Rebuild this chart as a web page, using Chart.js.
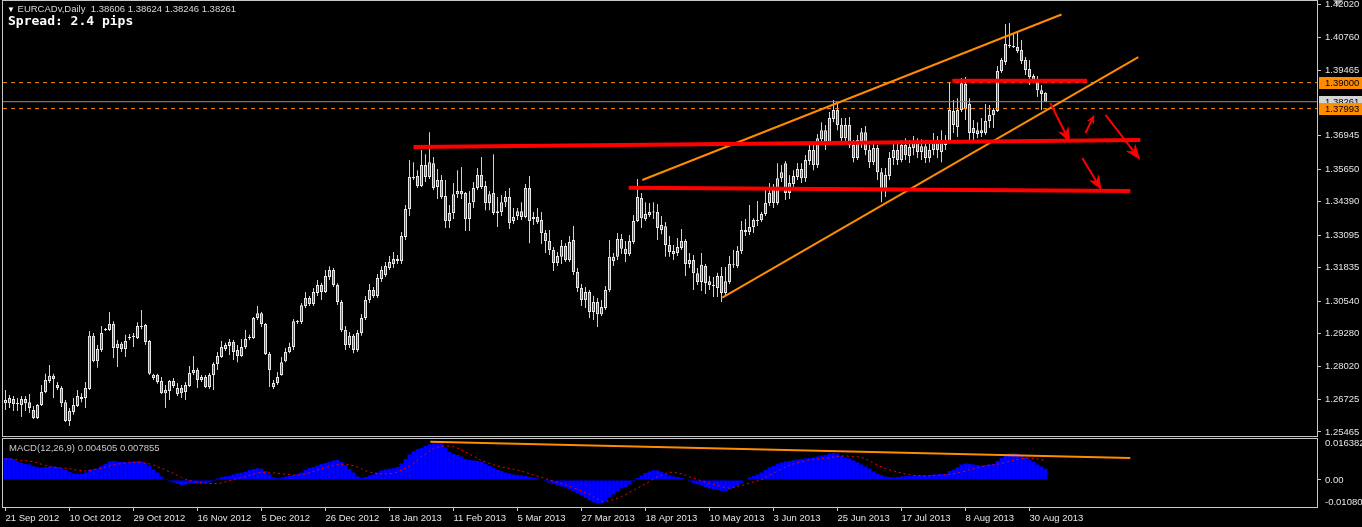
<!DOCTYPE html>
<html>
<head>
<meta charset="utf-8">
<title>EURCADv Daily</title>
<script src="https://cdn.jsdelivr.net/npm/chart.js@4.4.1/dist/chart.umd.min.js"></script>
<style>
  html, body { margin: 0; padding: 0; background: #000; overflow: hidden; }
  #wrap { position: relative; width: 1362px; height: 527px; background: #000; }
  #priceChart { position: absolute; left: 0; top: 0; }
  #macdChart { position: absolute; left: 0; top: 437px; }
  .txt { position: absolute; white-space: pre; font-family: "Liberation Sans", Arial, sans-serif; }
  #title { left: 7px; top: 3px; font-size: 9.5px; color: #d8d8d8; }
  #title .tri { font-size: 8px; color: #fff; }
  #spread { left: 8px; top: 13px; font: bold 13px "DejaVu Sans Mono", monospace; color: #fff; }
  #macdLabel { left: 9px; top: 442px; font-size: 9.5px; color: #c8c8c8; }
  #shiftMark { position: absolute; left: 1333px; top: 0; width: 0; height: 0;
    border-left: 5px solid transparent; border-right: 5px solid transparent; border-top: 6px solid #8a8a8a; }
</style>
</head>
<body>
<div id="wrap">
  <div id="shiftMark"></div>
  <canvas id="priceChart" width="1362" height="437"></canvas>
  <canvas id="macdChart" width="1362" height="90"></canvas>
  <div id="title" class="txt"></div>
  <div id="spread" class="txt"></div>
  <div id="macdLabel" class="txt"></div>
</div>
<script>
// daily bars, 21 Sep 2012 .. 4 Sep 2013 (MT4 feed with sunday bars)
const opens = [
  1.2658,1.2658,1.2674,1.2658,1.2651,1.2674,1.2662,1.2632,1.2601,1.2651,
  1.2701,1.2744,1.2764,1.2729,1.2717,1.2662,1.2589,1.2624,1.2647,1.2674,
  1.2678,1.2713,1.2919,1.2821,1.2864,1.2942,1.2942,1.2965,1.2872,1.2888,
  1.2868,1.2911,1.2915,1.2911,1.2957,1.2961,1.2899,1.2756,1.2768,1.2744,
  1.2697,1.2705,1.2744,1.2694,1.2717,1.2701,1.2725,1.2775,1.2787,1.2748,
  1.2760,1.2721,1.2767,1.2810,1.2837,1.2868,1.2880,1.2895,1.2864,1.2841,
  1.2876,1.2911,1.2911,1.2988,1.3007,1.2965,1.2849,1.2721,1.2736,1.2767,
  1.2821,1.2856,1.2876,1.2976,1.2973,1.3035,1.3066,1.3042,1.3085,1.3116,
  1.3089,1.3147,1.3174,1.3116,1.3050,1.2942,1.2884,1.2919,1.2864,1.2930,
  1.2988,1.3058,1.3097,1.3073,1.3139,1.3155,1.3182,1.3197,1.3217,1.3209,
  1.3302,1.3410,1.3534,1.3538,1.3500,1.3581,1.3534,1.3588,1.3496,1.3523,
  1.3461,1.3364,1.3395,1.3468,1.3480,1.3472,1.3372,1.3437,1.3492,1.3542,
  1.3500,1.3434,1.3472,1.3402,1.3399,1.3437,1.3457,1.3364,1.3383,1.3402,
  1.3379,1.3492,1.3372,1.3379,1.3368,1.3317,1.3286,1.3252,1.3201,1.3225,
  1.3267,1.3213,1.3290,1.3166,1.3104,1.3058,1.3089,1.3011,1.3050,1.3003,
  1.3027,1.3097,1.3209,1.3225,1.3294,1.3256,1.3236,1.3283,1.3364,1.3453,
  1.3372,1.3387,1.3399,1.3399,1.3329,1.3344,1.3271,1.3248,1.3240,1.3259,
  1.3286,1.3197,1.3213,1.3162,1.3128,1.3190,1.3131,1.3116,1.3104,1.3151,
  1.3085,1.3128,1.3194,1.3190,1.3248,1.3321,1.3321,1.3341,1.3368,1.3368,
  1.3391,1.3434,1.3484,1.3434,1.3530,1.3588,1.3472,1.3507,1.3534,1.3565,
  1.3530,1.3596,1.3639,1.3581,1.3681,1.3716,1.3670,1.3759,1.3794,1.3736,
  1.3685,1.3736,1.3658,1.3608,1.3674,1.3708,1.3639,1.3592,1.3647,1.3553,
  1.3484,1.3538,1.3608,1.3639,1.3600,1.3658,1.3616,1.3647,1.3670,1.3631,
  1.3654,1.3608,1.3639,1.3678,1.3631,1.3674,1.3674,1.3790,1.3728,1.3794,
  1.3895,1.3817,1.3724,1.3716,1.3716,1.3705,1.3751,1.3775,1.3790,1.3945,
  1.3980,1.4046,1.4042,1.4038,1.4026,1.3988,1.3953,1.3926,1.3902,1.3871,
  1.38606
];
const highs = [
  1.2709,1.2690,1.2686,1.2678,1.2686,1.2686,1.2694,1.2647,1.2655,1.2729,
  1.2772,1.2806,1.2772,1.2740,1.2725,1.2670,1.2639,1.2678,1.2709,1.2697,
  1.2740,1.2938,1.2930,1.2884,1.2957,1.2949,1.3011,1.2976,1.2903,1.2895,
  1.2923,1.2926,1.2930,1.2972,1.3019,1.2965,1.2903,1.2772,1.2772,1.2760,
  1.2729,1.2748,1.2756,1.2736,1.2729,1.2740,1.2802,1.2841,1.2795,1.2767,
  1.2767,1.2775,1.2817,1.2856,1.2899,1.2892,1.2907,1.2903,1.2884,1.2907,
  1.2942,1.2923,1.2992,1.3035,1.3011,1.2969,1.2856,1.2748,1.2779,1.2837,
  1.2872,1.2892,1.2984,1.2980,1.3046,1.3089,1.3073,1.3104,1.3135,1.3124,
  1.3174,1.3189,1.3182,1.3123,1.3058,1.2957,1.2934,1.2926,1.2942,1.3004,
  1.3073,1.3120,1.3108,1.3159,1.3189,1.3205,1.3228,1.3244,1.3232,1.3321,
  1.3426,1.3600,1.3592,1.3561,1.3639,1.3623,1.3708,1.3612,1.3565,1.3542,
  1.3523,1.3426,1.3511,1.3561,1.3573,1.3476,1.3480,1.3515,1.3569,1.3612,
  1.3519,1.3480,1.3623,1.3457,1.3465,1.3480,1.3492,1.3414,1.3414,1.3437,
  1.3507,1.3538,1.3399,1.3414,1.3399,1.3329,1.3329,1.3263,1.3244,1.3290,
  1.3278,1.3306,1.3345,1.3182,1.3120,1.3108,1.3097,1.3074,1.3066,1.3058,
  1.3112,1.3290,1.3240,1.3317,1.3314,1.3286,1.3310,1.3387,1.3527,1.3472,
  1.3437,1.3434,1.3437,1.3430,1.3383,1.3360,1.3306,1.3271,1.3298,1.3333,
  1.3294,1.3240,1.3232,1.3182,1.3240,1.3197,1.3151,1.3147,1.3163,1.3186,
  1.3186,1.3228,1.3252,1.3267,1.3364,1.3372,1.3426,1.3375,1.3441,1.3399,
  1.3496,1.3511,1.3507,1.3588,1.3581,1.3596,1.3542,1.3561,1.3589,1.3588,
  1.3620,1.3658,1.3670,1.3701,1.3747,1.3736,1.3786,1.3833,1.3817,1.3763,
  1.3763,1.3767,1.3678,1.3697,1.3724,1.3732,1.3658,1.3670,1.3658,1.3569,
  1.3569,1.3631,1.3662,1.3666,1.3678,1.3685,1.3678,1.3693,1.3685,1.3681,
  1.3674,1.3666,1.3705,1.3693,1.3716,1.3697,1.3902,1.3833,1.3840,1.3918,
  1.3922,1.3840,1.3755,1.3747,1.3763,1.3817,1.3813,1.3802,1.3964,1.3995,
  1.4127,1.4131,1.4092,1.4096,1.4065,1.3999,1.3988,1.3933,1.3926,1.3891,
  1.38624
];
const lows = [
  1.2632,1.2639,1.2628,1.2628,1.2605,1.2628,1.2620,1.2597,1.2597,1.2647,
  1.2697,1.2736,1.2678,1.2709,1.2643,1.2585,1.2570,1.2613,1.2643,1.2662,
  1.2639,1.2709,1.2817,1.2795,1.2856,1.2938,1.2938,1.2833,1.2798,1.2856,
  1.2837,1.2903,1.2876,1.2907,1.2945,1.2884,1.2767,1.2748,1.2733,1.2694,
  1.2639,1.2670,1.2717,1.2686,1.2678,1.2670,1.2721,1.2767,1.2717,1.2740,
  1.2717,1.2713,1.2709,1.2787,1.2833,1.2860,1.2845,1.2825,1.2817,1.2837,
  1.2868,1.2903,1.2907,1.2980,1.2953,1.2845,1.2721,1.2713,1.2729,1.2764,
  1.2817,1.2852,1.2864,1.2965,1.2965,1.3027,1.3035,1.3035,1.3073,1.3058,
  1.3085,1.3135,1.3108,1.3039,1.2934,1.2864,1.2872,1.2852,1.2856,1.2919,
  1.2980,1.3046,1.3066,1.3066,1.3128,1.3147,1.3174,1.3182,1.3197,1.3197,
  1.3290,1.3383,1.3523,1.3492,1.3496,1.3515,1.3527,1.3484,1.3449,1.3449,
  1.3337,1.3337,1.3372,1.3453,1.3449,1.3325,1.3325,1.3414,1.3484,1.3488,
  1.3406,1.3406,1.3387,1.3341,1.3383,1.3418,1.3333,1.3352,1.3368,1.3368,
  1.3375,1.3278,1.3348,1.3352,1.3275,1.3240,1.3232,1.3170,1.3190,1.3197,
  1.3205,1.3205,1.3155,1.3089,1.3035,1.3027,1.2988,1.2980,1.2953,1.2996,
  1.3019,1.3089,1.3190,1.3213,1.3236,1.3205,1.3228,1.3275,1.3360,1.3337,
  1.3364,1.3379,1.3372,1.3290,1.3313,1.3225,1.3225,1.3213,1.3228,1.3252,
  1.3151,1.3182,1.3097,1.3116,1.3093,1.3081,1.3097,1.3070,1.3070,1.3050,
  1.3074,1.3120,1.3182,1.3182,1.3236,1.3306,1.3310,1.3317,1.3345,1.3360,
  1.3383,1.3422,1.3414,1.3426,1.3515,1.3445,1.3449,1.3484,1.3523,1.3511,
  1.3515,1.3581,1.3561,1.3569,1.3666,1.3639,1.3658,1.3747,1.3716,1.3658,
  1.3670,1.3647,1.3592,1.3600,1.3647,1.3619,1.3569,1.3581,1.3523,1.3437,
  1.3457,1.3523,1.3581,1.3581,1.3592,1.3600,1.3589,1.3619,1.3608,1.3600,
  1.3589,1.3592,1.3619,1.3608,1.3592,1.3639,1.3666,1.3705,1.3689,1.3786,
  1.3755,1.3670,1.3674,1.3685,1.3689,1.3697,1.3724,1.3724,1.3786,1.3937,
  1.3968,1.4034,1.4034,1.4015,1.3972,1.3930,1.3891,1.3898,1.3844,1.3794,
  1.38246
];
const closes = [
  1.2670,1.2678,1.2655,1.2655,1.2674,1.2658,1.2639,1.2601,1.2651,1.2701,
  1.2748,1.2764,1.2752,1.2717,1.2658,1.2589,1.2628,1.2651,1.2686,1.2682,
  1.2717,1.2919,1.2821,1.2868,1.2930,1.2945,1.2965,1.2872,1.2888,1.2868,
  1.2899,1.2915,1.2919,1.2957,1.2953,1.2895,1.2772,1.2768,1.2740,1.2697,
  1.2709,1.2744,1.2725,1.2717,1.2697,1.2729,1.2775,1.2787,1.2748,1.2760,
  1.2721,1.2767,1.2810,1.2841,1.2876,1.2884,1.2895,1.2856,1.2841,1.2876,
  1.2907,1.2915,1.2988,1.3007,1.2965,1.2849,1.2787,1.2736,1.2760,1.2817,
  1.2856,1.2876,1.2976,1.2973,1.3038,1.3066,1.3042,1.3089,1.3116,1.3089,
  1.3151,1.3174,1.3116,1.3050,1.2942,1.2884,1.2919,1.2864,1.2930,1.2988,
  1.3058,1.3097,1.3073,1.3143,1.3174,1.3190,1.3205,1.3217,1.3209,1.3306,
  1.3410,1.3534,1.3530,1.3500,1.3581,1.3534,1.3592,1.3492,1.3523,1.3457,
  1.3364,1.3395,1.3468,1.3480,1.3468,1.3372,1.3434,1.3492,1.3542,1.3496,
  1.3434,1.3468,1.3395,1.3395,1.3437,1.3457,1.3356,1.3379,1.3402,1.3379,
  1.3492,1.3364,1.3379,1.3360,1.3317,1.3286,1.3252,1.3201,1.3228,1.3267,
  1.3213,1.3283,1.3166,1.3104,1.3058,1.3089,1.3011,1.3050,1.3003,1.3031,
  1.3097,1.3225,1.3225,1.3294,1.3256,1.3236,1.3286,1.3364,1.3457,1.3375,
  1.3391,1.3399,1.3397,1.3337,1.3348,1.3271,1.3244,1.3236,1.3263,1.3286,
  1.3197,1.3213,1.3162,1.3128,1.3194,1.3124,1.3116,1.3112,1.3151,1.3085,
  1.3131,1.3197,1.3197,1.3248,1.3329,1.3329,1.3341,1.3368,1.3364,1.3391,
  1.3434,1.3472,1.3434,1.3530,1.3553,1.3472,1.3511,1.3538,1.3565,1.3530,
  1.3600,1.3639,1.3581,1.3685,1.3716,1.3670,1.3763,1.3794,1.3736,1.3685,
  1.3736,1.3658,1.3608,1.3678,1.3708,1.3639,1.3592,1.3647,1.3553,1.3484,
  1.3542,1.3608,1.3639,1.3600,1.3658,1.3619,1.3651,1.3670,1.3631,1.3654,
  1.3608,1.3639,1.3678,1.3639,1.3670,1.3658,1.3794,1.3736,1.3794,1.3898,
  1.3798,1.3705,1.3705,1.3701,1.3705,1.3751,1.3775,1.3794,1.3945,1.3988,
  1.4050,1.4042,1.4038,1.4022,1.3984,1.3949,1.3922,1.3910,1.3871,1.3856,
  1.38261
];

// MACD(12,26,9): main (histogram) and signal
const macdMain = [
  .0088,.0088,.0084,.0075,.0068,.0064,.0062,.0055,.0051,.0050,
  .0052,.0054,.0054,.0052,.0047,.0040,.0033,.0026,.0024,.0024,
  .0030,.0042,.0044,.0046,.0055,.0064,.0074,.0076,.0074,.0072,
  .0071,.0072,.0074,.0076,.0075,.0068,.0058,.0042,.0030,.0014,
  .0004,-.0005,-.0010,-.0016,-.0021,-.0018,-.0016,-.0015,-.0015,-.0016,
  -.0014,-.0010,-.0004,.0006,.0011,.0014,.0016,.0022,.0026,.0029,
  .0033,.0040,.0044,.0047,.0045,.0036,.0022,.0010,.0006,.0010,
  .0014,.0016,.0020,.0024,.0030,.0040,.0048,.0052,.0058,.0064,
  .0068,.0072,.0078,.0080,.0072,.0060,.0044,.0030,.0014,.0008,
  .0012,.0018,.0022,.0030,.0038,.0042,.0045,.0047,.0052,.0066,
  .0084,.0102,.0115,.0124,.0128,.0136,.0143,.0150,.0151,.0148,
  .0130,.0112,.0104,.0100,.0094,.0084,.0080,.0078,.0076,.0072,
  .0064,.0056,.0048,.0040,.0036,.0030,.0026,.0022,.0020,.0018,
  .0016,.0012,.0009,.0006,.0002,-.0005,-.0010,-.0016,-.0022,-.0026,
  -.0030,-.0036,-.0044,-.0054,-.0062,-.0072,-.0082,-.0090,-.0094,-.0092,
  -.0084,-.0070,-.0058,-.0046,-.0034,-.0028,-.0018,-.0004,.0008,.0018,
  .0028,.0034,.0039,.0038,.0032,.0024,.0018,.0014,.0012,.0008,
  .0002,-.0006,-.0012,-.0018,-.0022,-.0028,-.0034,-.0036,-.0040,-.0044,
  -.0044,-.0038,-.0030,-.0022,-.0012,.0002,.0010,.0016,.0022,.0030,
  .0040,.0050,.0056,.0064,.0070,.0074,.0076,.0078,.0082,.0084,
  .0086,.0088,.0090,.0094,.0098,.0100,.0106,.0108,.0105,.0096,
  .0090,.0086,.0078,.0070,.0062,.0054,.0046,.0034,.0026,.0020,
  .0014,.0012,.0010,.0012,.0014,.0015,.0016,.0018,.0018,.0019,
  .0018,.0019,.0022,.0022,.0024,.0024,.0036,.0042,.0050,.0062,
  .0066,.0064,.0062,.0060,.0058,.0060,.0062,.0064,.0076,.0088,
  .0100,.0106,.0108,.0106,.0100,.0092,.0082,.0072,.0062,.0054,
  .004505
];
const macdSignal = [
  .0084,.0083,.0082,.0080,.0078,.0077,.0075,.0073,.0068,.0063,
  .0058,.0053,.0051,.0049,.0048,.0047,.0045,.0042,.0040,.0037,
  .0036,.0038,.0041,.0044,.0047,.0051,.0056,.0060,.0063,.0066,
  .0068,.0070,.0071,.0070,.0069,.0068,.0064,.0059,.0053,.0047,
  .0040,.0032,.0027,.0018,.0010,.0003,-.0002,-.0006,-.0009,-.0011,
  -.0013,-.0014,-.0015,-.0014,-.0012,-.0007,-.0003,.0002,.0006,.0010,
  .0013,.0018,.0023,.0027,.0031,.0030,.0028,.0028,.0027,.0025,
  .0023,.0021,.0020,.0020,.0021,.0024,.0029,.0034,.0040,.0045,
  .0050,.0054,.0058,.0061,.0063,.0062,.0060,.0057,.0051,.0045,
  .0037,.0032,.0028,.0025,.0024,.0024,.0025,.0027,.0033,.0040,
  .0047,.0056,.0066,.0080,.0093,.0103,.0115,.0127,.0130,.0134,
  .0136,.0136,.0133,.0128,.0120,.0112,.0104,.0095,.0087,.0076,
  .0072,.0066,.0061,.0056,.0052,.0049,.0046,.0043,.0040,.0035,
  .0030,.0025,.0020,.0015,.0011,.0005,.0000,-.0005,-.0010,-.0014,
  -.0019,-.0025,-.0031,-.0037,-.0044,-.0050,-.0058,-.0067,-.0076,-.0084,
  -.0087,-.0083,-.0078,-.0073,-.0066,-.0058,-.0050,-.0041,-.0033,-.0024,
  -.0015,-.0006,.0004,.0013,.0020,.0026,.0031,.0030,.0028,.0024,
  .0019,.0013,.0007,.0002,-.0003,-.0008,-.0013,-.0017,-.0022,-.0026,
  -.0030,-.0033,-.0030,-.0026,-.0022,-.0018,-.0013,-.0008,-.0004,.0001,
  .0009,.0018,.0027,.0035,.0044,.0052,.0060,.0064,.0068,.0072,
  .0076,.0080,.0082,.0084,.0086,.0088,.0089,.0092,.0094,.0096,
  .0096,.0095,.0094,.0093,.0090,.0084,.0076,.0068,.0060,.0052,
  .0046,.0041,.0036,.0032,.0028,.0024,.0021,.0019,.0018,.0017,
  .0017,.0017,.0018,.0019,.0020,.0021,.0023,.0025,.0028,.0032,
  .0036,.0041,.0045,.0049,.0053,.0056,.0059,.0061,.0063,.0066,
  .0070,.0074,.0078,.0082,.0085,.0087,.0087,.0086,.0084,.0081,
  .007855
];

// axis labels
const dateLabels = ['21 Sep 2012', '10 Oct 2012', '29 Oct 2012', '16 Nov 2012', '5 Dec 2012',
  '26 Dec 2012', '18 Jan 2013', '11 Feb 2013', '5 Mar 2013', '27 Mar 2013', '18 Apr 2013',
  '10 May 2013', '3 Jun 2013', '25 Jun 2013', '17 Jul 2013', '8 Aug 2013', '30 Aug 2013'];
const labelStep = 16;
const priceTicks = [1.42020, 1.40760, 1.39465, 1.36945, 1.35650, 1.34390, 1.33095,
  1.31835, 1.30540, 1.29280, 1.28020, 1.26725, 1.25465];
const macdTicks = [0.016382, 0, -0.010803];

// drawn objects, in (bar, price) terms
const channelUpper = [[159.2, 1.3523], [264.0, 1.4164]];
const channelLower = [[179.2, 1.3067], [283.2, 1.3999]];
const redLine1 = [[102.0, 1.3651], [283.7, 1.3678]];
const redLine2 = [[155.8, 1.3493], [281.2, 1.3480]];
const redLine3 = [[236.7, 1.3907], [270.4, 1.3907]];
const levelPrices = [1.39000, 1.37993];
const arrowFrom = [[261.2, 1.3821], [270.0, 1.3705], [275.0, 1.3775], [269.2, 1.3608]];
const arrowTo = [[266.2, 1.3666], [272.2, 1.3775], [283.7, 1.3600], [274.0, 1.3484]];
const macdTrend = [[106.2, 0.01528], [281.2, 0.0088]];

const symbol = 'EURCADv,Daily';
const spreadPips = 2.4;

// scale ranges
const xMin = -0.625, xMax = 327.875;
const priceMin = 1.25310, priceMax = 1.42163;
const macdMin = -0.010803, macdMax = 0.016382;

const last = closes.length - 1;
const txtColor = '#e4e4e4';
const frameColor = '#c8c8c8';

Chart.defaults.font.family = '"Liberation Sans", Arial, sans-serif';
Chart.defaults.font.size = 9.5;
Chart.defaults.color = txtColor;
Chart.defaults.animation = false;

document.getElementById('title').innerHTML =
  '<span class="tri">\u25BC</span> ' + symbol + '  ' +
  [opens[last], highs[last], lows[last], closes[last]].map(v => v.toFixed(5)).join(' ');
document.getElementById('spread').textContent = 'Spread: ' + spreadPips.toFixed(1) + ' pips';
document.getElementById('macdLabel').textContent =
  'MACD(12,26,9) ' + macdMain[last].toFixed(6) + ' ' + macdSignal[last].toFixed(6);

const pts = arr => arr.map(p => ({ x: p[0], y: p[1] }));
const idx = closes.map((_, i) => i);

// no extra room for edge labels, the panels are fixed like in MT4
function fixY(s) { s.width = 45; s.paddingTop = 0; s.paddingBottom = 0; }
function fixX(s) { s.height = 20; s.paddingLeft = 0; s.paddingRight = 0; }

const framePlugin = {
  id: 'frame',
  afterDraw(chart) {
    const { ctx, chartArea: a } = chart;
    ctx.save();
    ctx.strokeStyle = frameColor;
    ctx.lineWidth = 1;
    ctx.strokeRect(a.left - 0.5, a.top - 0.5, a.right - a.left + 1, a.bottom - a.top + 1);
    ctx.restore();
  }
};

// price boxes on the right scale
const tagPlugin = {
  id: 'tags',
  afterDraw(chart) {
    const { ctx, scales: { y }, chartArea: a } = chart;
    const tags = [{ v: closes[last], bg: '#d4d4d4' }].concat(levelPrices.map(v => ({ v, bg: '#ff8c00' })));
    ctx.save();
    ctx.font = '9.5px "Liberation Sans", Arial, sans-serif';
    ctx.textBaseline = 'middle';
    tags.forEach(t => {
      const py = Math.round(y.getPixelForValue(t.v));
      ctx.fillStyle = t.bg;
      ctx.fillRect(a.right + 2, py - 6, chart.width - a.right - 2, 12);
      ctx.fillStyle = '#000';
      ctx.fillText(t.v.toFixed(5), a.right + 8, py + 0.5);
    });
    ctx.restore();
  }
};

const headLen = [16, 9, 16, 15];
const headWid = [6, 4, 6, 6];
const arrowPlugin = {
  id: 'arrows',
  afterDatasetsDraw(chart) {
    const { ctx, scales: { x, y } } = chart;
    ctx.save();
    ctx.fillStyle = '#ff0000';
    ctx.strokeStyle = '#ff0000';
    ctx.lineWidth = 2;
    arrowFrom.forEach((f, k) => {
      const x0 = x.getPixelForValue(f[0]), y0 = y.getPixelForValue(f[1]);
      const x1 = x.getPixelForValue(arrowTo[k][0]), y1 = y.getPixelForValue(arrowTo[k][1]);
      const d = Math.hypot(x1 - x0, y1 - y0);
      const ux = (x1 - x0) / d, uy = (y1 - y0) / d;
      const L = headLen[k], W = headWid[k];
      ctx.beginPath();
      ctx.moveTo(x0, y0);
      ctx.lineTo(x1 - ux * L * 0.7, y1 - uy * L * 0.7);
      ctx.stroke();
      ctx.beginPath();
      ctx.moveTo(x1, y1);
      ctx.lineTo(x1 - ux * L - uy * W, y1 - uy * L + ux * W);
      ctx.lineTo(x1 - ux * L * 0.7, y1 - uy * L * 0.7);
      ctx.lineTo(x1 - ux * L + uy * W, y1 - uy * L - ux * W);
      ctx.closePath();
      ctx.fill();
    });
    ctx.restore();
  }
};

const lineSet = (data, color, width, order, dash) => ({
  type: 'line', data: pts(data), borderColor: color, borderWidth: width,
  borderDash: dash || [], pointRadius: 0, tension: 0, order: order, borderCapStyle: 'butt'
});

new Chart('priceChart', {
  type: 'bar',
  data: {
    datasets: [
      lineSet(redLine1, '#ff0000', 4, 0),
      lineSet(redLine2, '#ff0000', 4, 0),
      lineSet(redLine3, '#ff0000', 4, 0),
      lineSet(channelUpper, '#ff8c00', 2, 1),
      lineSet(channelLower, '#ff8c00', 2, 1),
      lineSet([[xMin, levelPrices[0]], [xMax, levelPrices[0]]], '#ff8c00', 1, 1, [4, 4]),
      lineSet([[xMin, levelPrices[1]], [xMax, levelPrices[1]]], '#ff8c00', 1, 1, [4, 4]),
      lineSet([[xMin, closes[last]], [xMax, closes[last]]], '#909090', 1, 1),
      {
        type: 'bar',
        data: idx.map(i => ({ x: i, y: [opens[i], closes[i]] })),
        backgroundColor: idx.map(i => closes[i] >= opens[i] ? '#3a5ae0' : '#e04848'),
        borderColor: '#e8e8e8', borderWidth: 1, borderSkipped: false,
        barThickness: 3, grouped: false, minBarLength: 1, inflateAmount: 0, order: 2
      },
      {
        type: 'bar',
        data: idx.map(i => ({ x: i, y: [lows[i], highs[i]] })),
        backgroundColor: '#d0d0d0', borderWidth: 0,
        barThickness: 1, grouped: false, inflateAmount: 0, order: 3
      }
    ]
  },
  options: {
    responsive: false,
    devicePixelRatio: 1,
    layout: { padding: { left: 3, top: 1, right: 0, bottom: 1 } },
    plugins: { legend: { display: false }, tooltip: { enabled: false } },
    scales: {
      x: { type: 'linear', display: false, min: xMin, max: xMax, offset: false, grid: { offset: false } },
      y: {
        position: 'right', min: priceMin, max: priceMax, bounds: 'data', beginAtZero: false,
        afterBuildTicks: s => { s.ticks = priceTicks.map(v => ({ value: v })); },
        afterFit: fixY,
        border: { display: false },
        grid: { drawOnChartArea: false, drawTicks: true, tickLength: 4, color: frameColor },
        ticks: { autoSkip: false, padding: 4, color: txtColor, callback: v => v.toFixed(5) }
      }
    }
  },
  plugins: [framePlugin, arrowPlugin, tagPlugin]
});

new Chart('macdChart', {
  type: 'bar',
  data: {
    datasets: [
      lineSet(macdTrend, '#ff8c00', 2, 0),
      {
        type: 'line', data: idx.map(i => ({ x: i, y: macdSignal[i] })),
        borderColor: '#ff0000', borderWidth: 1, borderDash: [2, 3], pointRadius: 0, tension: 0, order: 1
      },
      {
        type: 'bar', data: idx.map(i => ({ x: i, y: macdMain[i] })),
        backgroundColor: '#0000ff', borderWidth: 0, barThickness: 4, grouped: false, inflateAmount: 0, order: 2
      }
    ]
  },
  options: {
    responsive: false,
    devicePixelRatio: 1,
    layout: { padding: { left: 3, top: 2, right: 0, bottom: 0 } },
    plugins: { legend: { display: false }, tooltip: { enabled: false } },
    scales: {
      x: {
        type: 'linear', min: xMin, max: xMax, offset: false, position: 'bottom',
        afterBuildTicks: s => { s.ticks = dateLabels.map((_, k) => ({ value: k * labelStep })); },
        afterFit: fixX,
        border: { display: false },
        grid: { drawOnChartArea: false, offset: false, tickLength: 4, color: frameColor },
        ticks: { autoSkip: false, maxRotation: 0, minRotation: 0, align: 'start', padding: 2,
          color: txtColor, callback: (v, k) => dateLabels[k] }
      },
      y: {
        position: 'right', min: macdMin, max: macdMax, bounds: 'data', beginAtZero: false,
        afterBuildTicks: s => { s.ticks = macdTicks.map(v => ({ value: v })); },
        afterFit: fixY,
        border: { display: false },
        grid: { drawOnChartArea: false, tickLength: 4,
          color: c => (c.tick && c.tick.value === 0) ? frameColor : 'rgba(0,0,0,0)' },
        ticks: {
          autoSkip: false, padding: 4, color: txtColor, font: { size: 9.5, lineHeight: 1 },
          callback: v => v === macdMax ? ['', v.toFixed(6)] : (v === macdMin ? [v.toFixed(6), ''] : '0.00')
        }
      }
    }
  },
  plugins: [framePlugin]
});
</script>
</body>
</html>
